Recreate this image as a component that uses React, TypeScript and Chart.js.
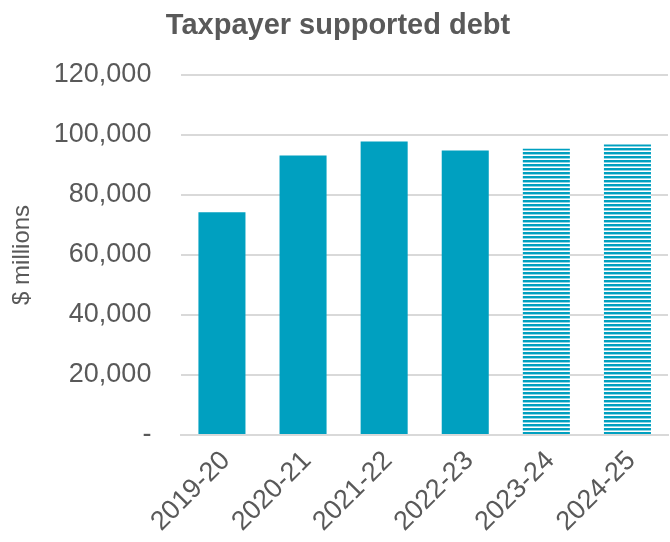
import React, { useEffect, useRef } from "react";
import { Chart, registerables } from "chart.js";

Chart.register(...registerables);

const categories = ["2019-20", "2020-21", "2021-22", "2022-23", "2023-24", "2024-25"];
const debtValues = [74200, 93100, 97800, 94800, 95400, 96800];
const isForecast = [false, false, false, false, true, true];
const yTickLabels: Record<number, string> = {
  0: "-",
  20000: "20,000",
  40000: "40,000",
  60000: "60,000",
  80000: "80,000",
  100000: "100,000",
  120000: "120,000",
};

const BLUE = "#00A0C0";
const TEXT = "#595959";
const FONT = "'Liberation Sans', Arial, sans-serif";

function makeStripePattern(): CanvasPattern | string {
  const c = document.createElement("canvas");
  c.width = 4;
  c.height = 4;
  const ctx = c.getContext("2d");
  if (!ctx) return BLUE;
  ctx.fillStyle = "#ffffff";
  ctx.fillRect(0, 0, 4, 4);
  ctx.fillStyle = BLUE;
  ctx.fillRect(0, 0, 4, 2);
  ctx.fillStyle = "#8fd5e4";
  ctx.fillRect(0, 2, 4, 1);
  const p = ctx.createPattern(c, "repeat");
  return p || BLUE;
}

export default function App() {
  const ref = useRef<HTMLCanvasElement>(null);
  useEffect(() => {
    document.body.style.margin = "0";
    if (!ref.current) return;
    const stripe = makeStripePattern();
    const colors = isForecast.map((f) => (f ? stripe : BLUE));
    const chart = new Chart(ref.current, {
      type: "bar",
      data: {
        labels: categories,
        datasets: [
          {
            label: "Taxpayer supported debt",
            data: debtValues,
            backgroundColor: colors as any,
            borderWidth: 0,
            categoryPercentage: 1,
            barPercentage: 0.58,
          },
        ],
      },
      options: {
        animation: false,
        responsive: false,
        maintainAspectRatio: false,
        layout: { padding: { left: 8, right: 2, top: 0, bottom: -6 } },
        plugins: {
          legend: { display: false },
          tooltip: { enabled: false },
          title: {
            display: true,
            text: "Taxpayer supported debt",
            color: TEXT,
            font: { family: FONT, size: 29, weight: "bold" },
            padding: { top: 9, bottom: 31 },
          },
        },
        scales: {
          x: {
            grid: { display: false, drawTicks: false },
            border: { display: true, color: "#d9d9d9", width: 2 },
            ticks: {
              color: TEXT,
              font: { family: FONT, size: 27 },
              minRotation: 45,
              maxRotation: 45,
              padding: 10,
              labelOffset: 4,
            },
            afterFit: (scale: any) => {
              scale.paddingLeft = 0;
              scale.paddingRight = 0;
            },
          },
          y: {
            min: 0,
            max: 120000,
            border: { display: false },
            grid: {
              color: "#d9d9d9",
              lineWidth: 2,
              drawTicks: true,
              tickLength: 28,
              tickColor: "rgba(0,0,0,0)",
            },
            ticks: {
              stepSize: 20000,
              color: TEXT,
              padding: 2,
              font: { family: FONT, size: 27 },
              callback: (v: any) => yTickLabels[Number(v)] ?? String(v),
            },
            title: {
              display: true,
              text: "$ millions",
              color: TEXT,
              font: { family: FONT, size: 24 },
              padding: { top: 0, bottom: 15 },
            },
          },
        },
      },
    });
    return () => chart.destroy();
  }, []);
  return <canvas ref={ref} width={670} height={542} style={{ display: "block" }} />;
}
